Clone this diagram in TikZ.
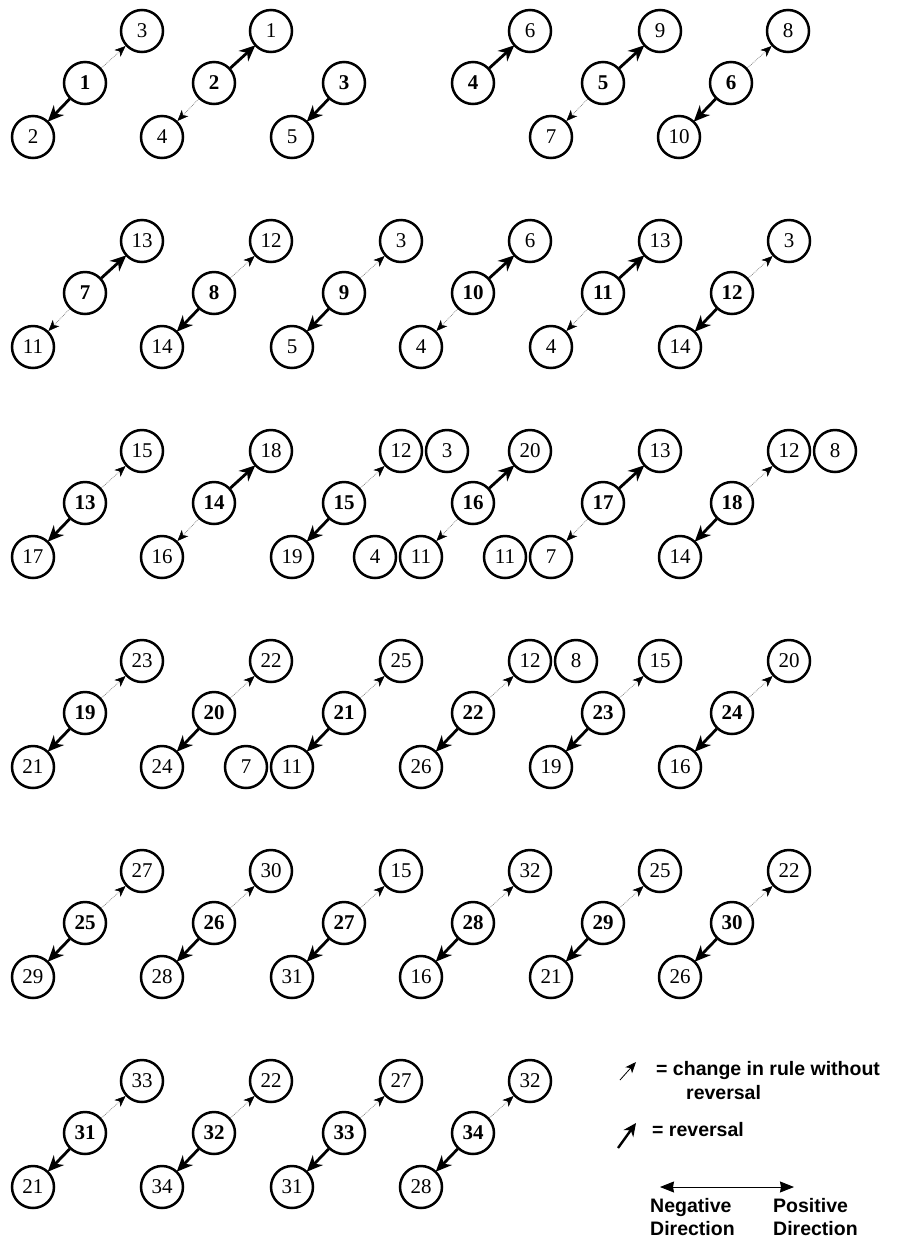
\documentclass[tikz,border=0pt]{standalone}
\usepackage{fontspec}
\setmainfont{Liberation Serif}
\newfontfamily\legendfont{Liberation Sans}
\usetikzlibrary{arrows.meta,calc}
\tikzset{
  cnode/.style={circle,draw,line width=2.5pt,minimum size=42pt,inner sep=0pt,font=\fontsize{21}{21}\selectfont\bfseries},
  onode/.style={circle,draw,line width=2.5pt,minimum size=42pt,inner sep=0pt,font=\fontsize{21}{21}\selectfont},
  rev/.style={line width=2.8pt,-{Stealth[length=16pt,width=14pt,inset=5pt]},shorten >=-1pt},
  chg/.style={line width=0.7pt,draw=black!55,densely dotted,-{Stealth[length=11pt,width=9pt,inset=3pt,black,line width=0.5pt]}},
  legtext/.style={font=\legendfont\bfseries\fontsize{19.5}{23}\selectfont,inner sep=0pt}
}
% id, x, y, centre, top, top style, bottom, bottom style
\newcommand{\grp}[8]{%
  \node[cnode] (#1c) at (#2,#3) {#4};
  \node[onode] (#1t) at ({#2+57},{#3-52}) {#5};
  \node[onode] (#1b) at ({#2-52},{#3+54}) {#7};
  \draw[#6] (#1c) -- (#1t);
  \draw[#8] (#1c) -- (#1b);
}
\begin{document}
\begin{tikzpicture}[x=1pt,y=-1pt]
\useasboundingbox (0,0) rectangle (899,1243);
% ---- row 1
\grp{a1}{85}{83}{1}{3}{chg}{2}{rev}
\grp{a2}{214}{83}{2}{1}{rev}{4}{chg}
\node[cnode] (a3c) at (344,83) {3};
\node[onode] (a3b) at (292,137) {5};
\draw[rev] (a3c) -- (a3b);
\node[cnode] (a4c) at (473,83) {4};
\node[onode] (a4t) at (530,31) {6};
\draw[rev] (a4c) -- (a4t);
\grp{a5}{603}{83}{5}{9}{rev}{7}{chg}
\grp{a6}{731}{83}{6}{8}{chg}{10}{rev}
% ---- row 2
\grp{b1}{85}{293}{7}{13}{rev}{11}{chg}
\grp{b2}{214}{293}{8}{12}{chg}{14}{rev}
\grp{b3}{344}{293}{9}{3}{chg}{5}{rev}
\grp{b4}{473}{293}{10}{6}{rev}{4}{chg}
\grp{b5}{603}{293}{11}{13}{rev}{4}{chg}
\grp{b6}{732}{293}{12}{3}{chg}{14}{rev}
% ---- row 3
\grp{c1}{85}{503}{13}{15}{chg}{17}{rev}
\grp{c2}{214}{503}{14}{18}{rev}{16}{chg}
\grp{c3}{344}{503}{15}{12}{chg}{19}{rev}
\node[onode] (c3x) at ($(c3t)+(46,0)$) {3};
\grp{c4}{473}{503}{16}{20}{rev}{11}{chg}
\node[onode] (c4x) at ($(c4b)+(-46,0)$) {4};
\grp{c5}{603}{503}{17}{13}{rev}{7}{chg}
\node[onode] (c5x) at ($(c5b)+(-46,0)$) {11};
\grp{c6}{732}{503}{18}{12}{chg}{14}{rev}
\node[onode] (c6x) at ($(c6t)+(46,0)$) {8};
% ---- row 4
\grp{d1}{85}{713}{19}{23}{chg}{21}{rev}
\grp{d2}{214}{713}{20}{22}{chg}{24}{rev}
\grp{d3}{344}{713}{21}{25}{chg}{11}{rev}
\node[onode] (d3x) at ($(d3b)+(-46,0)$) {7};
\grp{d4}{473}{713}{22}{12}{chg}{26}{rev}
\node[onode] (d4x) at ($(d4t)+(46,0)$) {8};
\grp{d5}{603}{713}{23}{15}{chg}{19}{rev}
\grp{d6}{732}{713}{24}{20}{chg}{16}{rev}
% ---- row 5
\grp{e1}{85}{923}{25}{27}{chg}{29}{rev}
\grp{e2}{214}{923}{26}{30}{chg}{28}{rev}
\grp{e3}{344}{923}{27}{15}{chg}{31}{rev}
\grp{e4}{473}{923}{28}{32}{chg}{16}{rev}
\grp{e5}{603}{923}{29}{25}{chg}{21}{rev}
\grp{e6}{732}{923}{30}{22}{chg}{26}{rev}
% ---- row 6
\grp{f1}{85}{1133}{31}{33}{chg}{21}{rev}
\grp{f2}{214}{1133}{32}{22}{chg}{34}{rev}
\grp{f3}{344}{1133}{33}{27}{chg}{31}{rev}
\grp{f4}{473}{1133}{34}{32}{chg}{28}{rev}
% ---- legend
\coordinate (l1s) at (620,1080);
\coordinate (l1e) at (636,1062);
\draw[line width=0.8pt,-{Stealth[length=11pt,width=9pt,inset=3pt]}] (l1s) -- (l1e);
\node[legtext,anchor=west] (l1t) at (656,1070) {= change in rule without};
\node[legtext,anchor=west] (l1u) at (686,1093) {reversal};
\coordinate (l2s) at (618,1148);
\coordinate (l2e) at (636,1123);
\draw[line width=2.4pt,-{Stealth[length=13pt,width=12pt,inset=4pt]}] (l2s) -- (l2e);
\node[legtext,anchor=west] (l2t) at (652,1130) {= reversal};
\coordinate (dl) at (660,1187);
\coordinate (dr) at (794,1187);
\draw[line width=0.9pt,{Stealth[length=14pt,width=11pt,inset=1pt]}-{Stealth[length=14pt,width=11pt,inset=1pt]}] (dl) -- (dr);
\node[legtext,anchor=north west,align=left] (neg) at (650,1198) {Negative\\Direction};
\node[legtext,anchor=north west,align=left] (pos) at (773,1198) {Positive\\Direction};
\end{tikzpicture}
\end{document}
